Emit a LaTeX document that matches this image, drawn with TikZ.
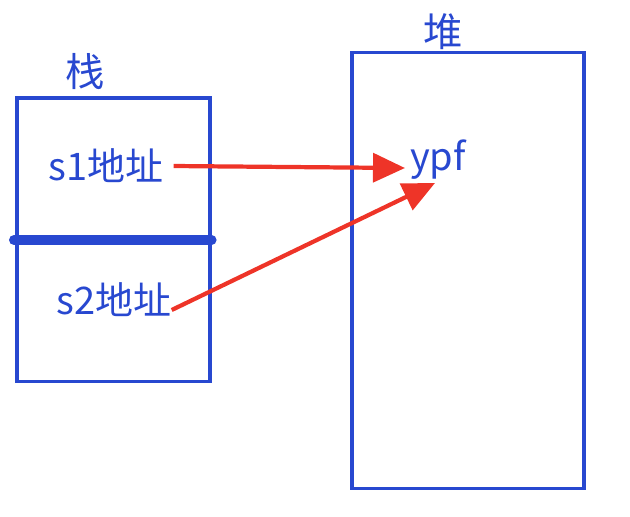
\documentclass[tikz,border=0pt]{standalone}
\usepackage{fontspec}
\setmainfont{Noto Sans CJK SC}
\usetikzlibrary{arrows.meta}
\definecolor{memblue}{RGB}{40,72,208}
\definecolor{ptrred}{RGB}{238,52,40}
\tikzset{
  membox/.style={draw=memblue, line width=2.2pt, inner sep=0pt},
  memtext/.style={text=memblue, inner sep=0pt, font=\fontsize{27}{30}\selectfont},
  memtitle/.style={text=memblue, inner sep=0pt, font=\fontsize{28}{32}\selectfont},
  ptr/.style={draw=ptrred, line width=3pt, -{Triangle[length=0.8cm, width=0.72cm]}}
}
\begin{document}
\begin{tikzpicture}[x=0.025cm, y=-0.025cm]
  \useasboundingbox (0,0) rectangle (630,516);
  % stack and heap
  \node[membox, minimum width=4.825cm, minimum height=7.075cm] (stack) at (113.5,239.5) {};
  \node[membox, minimum width=5.8cm, minimum height=10.875cm] (heap) at (468,270.5) {};
  \draw[memblue, line width=0.25cm, line cap=round] (14,240) -- (stack.east |- 0,240);
  \node[memtitle] (stacklbl) at (85,72) {栈};
  \node[memtitle] (heaplbl) at (443,32) {堆};
  % contents
  \node[memtext] (s1) at (106,166) {s1地址};
  \node[memtext] (s2) at (114,300) {s2地址};
  \node[memtext] (ypf) at (438,160) {ypf};
  \coordinate (tip1) at (405,168);
  \coordinate (tip2) at (435,183);
  \draw[ptr] ([xshift=0.25cm]s1.east) -- (tip1);
  \draw[ptr] ([yshift=-0.25cm]s2.east) -- (tip2);
\end{tikzpicture}
\end{document}
